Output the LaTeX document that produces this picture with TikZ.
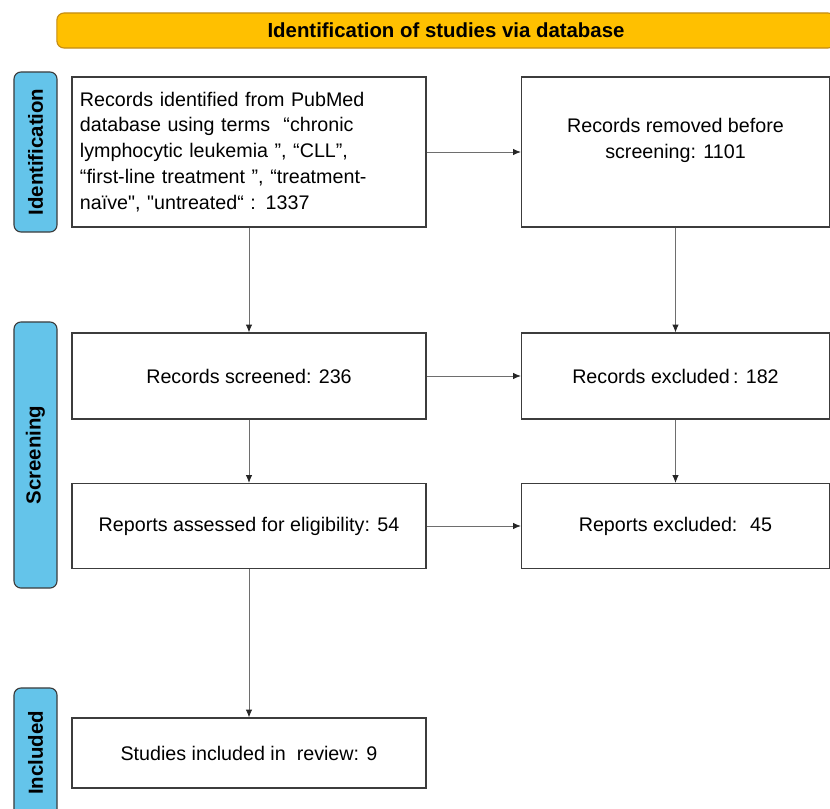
\documentclass[tikz,border=0pt]{standalone}
\usepackage{fontspec}
\newfontfamily\arialfont{Liberation Sans}
\usepackage{tikz}
\usetikzlibrary{positioning, arrows.meta}
\definecolor{headerorange}{RGB}{255,192,0}
\definecolor{headerline}{RGB}{196,140,20}
\definecolor{phaseblue}{RGB}{100,196,234}
\definecolor{boxline}{RGB}{60,60,60}
\definecolor{arrowgray}{RGB}{110,110,110}
\tikzset{
    every edge/.style={
        draw,
        -{Latex[length=5.5pt,width=4.5pt,color=black!85]},
        arrowgray,
        line width=0.6pt
    },
    flowbox/.style={draw=boxline, line width=0.8pt, fill=white,
        font=\arialfont\fontsize{14pt}{18.4pt}\selectfont, inner sep=0pt},
    widebox/.style={flowbox, minimum width=8.85cm},
    sidebox/.style={flowbox, minimum width=7.7cm},
    phase/.style={draw=boxline, line width=0.8pt, fill=phaseblue,
        rounded corners=5pt, rotate=90, minimum height=1.075cm,
        font=\arialfont\bfseries\fontsize{14.5pt}{16pt}\selectfont}
}

\begin{document}
\begin{tikzpicture}[x=0.025cm, y=-0.025cm]
	\useasboundingbox (0,0) rectangle (830,809);
	% header and phases
	\node[draw=headerline, line width=0.8pt, fill=headerorange, rounded corners=5pt,
	      minimum width=19.45cm, minimum height=0.875cm,
	      font=\arialfont\bfseries\fontsize{14.5pt}{16pt}\selectfont] (header) at (446,30.5)
	      {Identification of studies via database};
	\node[phase, minimum width=4cm] (identification) at (35.5,152) {Identification};
	\node[phase, minimum width=6.65cm] (screening) at (35.5,455) {Screening};
	\node[phase, minimum width=3.25cm] (included) at (35.5,753) {Included};
	% boxes
	\node[widebox, minimum height=3.75cm, text width=8.45cm, align=left] (identified) at (249,152)
	      {Records identified from PubMed\\
	       database using terms \ “chronic\\
	       lymphocytic leukemia ”, “CLL”,\\
	       “first-line treatment ”, “treatment-\\
	       naïve", "untreated“ : 1337};
	\node[sidebox, minimum height=3.75cm,
	      label={[align=center, yshift=0.3cm, font=\arialfont\fontsize{14pt}{18.4pt}\selectfont]center:Records removed before\\screening: 1101}]
	      (removed) at (675.5,152) {};
	\node[widebox, minimum height=2.15cm] (screened) at (249,376) {Records screened: 236};
	\node[sidebox, minimum height=2.15cm] (excluded) at (675.5,376) {Records excluded\,: 182};
	\node[widebox, minimum height=2.125cm] (assessed) at (249,526) {Reports assessed for eligibility: 54};
	\node[sidebox, minimum height=2.125cm] (reportsexcl) at (675.5,526) {Reports excluded: \ 45};
	\node[widebox, minimum height=1.75cm] (studies) at (249,753) {Studies included in \ review: 9};
	\draw
	(identified) edge (removed)
	(identified) edge (screened)
	(removed) edge (excluded)
	(screened) edge (excluded)
	(screened) edge (assessed)
	(excluded) edge (reportsexcl)
	(assessed) edge (reportsexcl)
	(assessed) edge (studies);
\end{tikzpicture}
\end{document}
